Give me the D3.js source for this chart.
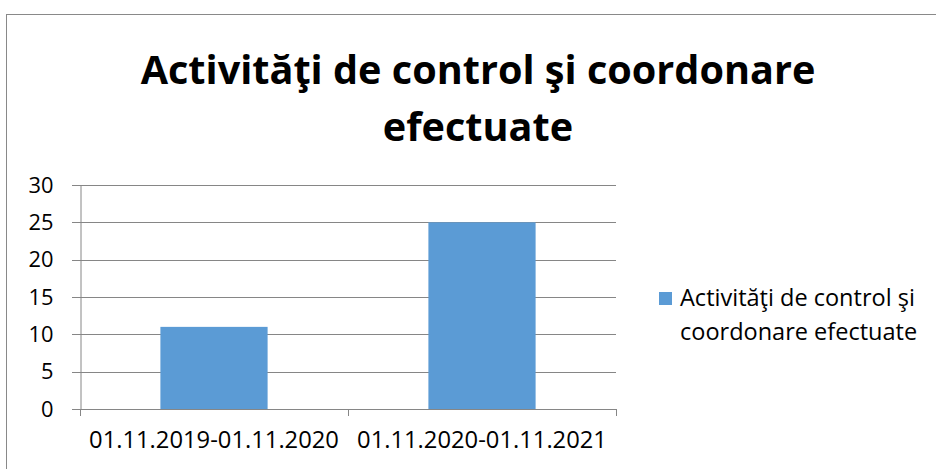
<!DOCTYPE html>
<html>
<head>
<meta charset="utf-8">
<script src="https://cdn.jsdelivr.net/npm/d3@7"></script>
<style>
  body { margin: 0; background: #fff; }
  text { font-family: "Open Sans", sans-serif; fill: #000; }
</style>
</head>
<body>
<svg id="chart" width="936" height="469"></svg>
<script>
const categories = ['01.11.2019-01.11.2020', '01.11.2020-01.11.2021'];
const values = [11, 25];
const yTicks = [0, 5, 10, 15, 20, 25, 30];
const titleLines = ['Activităţi de control şi coordonare', 'efectuate'];
const legendLines = ['Activităţi de control şi', 'coordonare efectuate'];

const svg = d3.select('#chart');

// shrink/grow a text node so it spans the given width (fonts differ from the original)
function fitWidth(sel, target) {
  const fs = +sel.attr('font-size');
  const w = sel.node().getComputedTextLength();
  sel.attr('font-size', (fs * target / w).toFixed(2));
}

// chart border
svg.append('rect')
  .attr('x', 6.5).attr('y', 14.5)
  .attr('width', 940).attr('height', 470)
  .attr('fill', 'none')
  .attr('stroke', '#898989')

const x = d3.scaleBand()
  .domain(categories)
  .range([80, 616])
  .paddingInner(0.6)
  .paddingOuter(0.3)

const y = d3.scaleLinear()
  .domain([0, 30])
  .range([409, 185])

// gridlines
svg.append('g')
  .selectAll('line')
  .data(yTicks)
  .join('line')
  .attr('x1', 72).attr('x2', 616)
  .attr('y1', d => Math.round(y(d)) + 0.5)
  .attr('y2', d => Math.round(y(d)) + 0.5)
  .attr('stroke', '#868686')

// y axis
const yAxis = d3.axisLeft(y).tickValues(yTicks).tickSize(0).tickPadding(27)
const yG = svg.append('g')
  .attr('transform', 'translate(80.5,0)')
  .call(yAxis)
  .call(g => g.select('.domain').attr('stroke', '#868686'))
  .call(g => g.selectAll('text').attr('font-size', 19).attr('fill', '#000')
    .attr('font-family', '"Open Sans", sans-serif'))
// size the tick labels so "30" is as wide as in the original
const topTick = yG.selectAll('.tick text').filter(d => d === 30)
fitWidth(topTick, 25)
yG.selectAll('.tick text').attr('font-size', topTick.attr('font-size'))

// bars
svg.append('g')
  .selectAll('rect')
  .data(values)
  .join('rect')
  .attr('x', (d, i) => x(categories[i]))
  .attr('width', x.bandwidth())
  .attr('y', d => y(d))
  .attr('height', d => y(0) - y(d))
  .attr('fill', '#5B9BD5')

// x axis
const xEdges = d3.scaleLinear().domain([0, categories.length]).range([80, 616])
svg.append('g')
  .selectAll('line')
  .data(d3.range(categories.length + 1))
  .join('line')
  .attr('x1', d => Math.round(xEdges(d)) + 0.5)
  .attr('x2', d => Math.round(xEdges(d)) + 0.5)
  .attr('y1', 409).attr('y2', 416)
  .attr('stroke', '#868686')

svg.append('g')
  .selectAll('text')
  .data(categories)
  .join('text')
  .attr('x', d => x(d) + x.bandwidth() / 2)
  .attr('y', 448)
  .attr('text-anchor', 'middle')
  .attr('font-size', 19)
  .text(d => d)
  .each(function() { fitWidth(d3.select(this), 250) })

// title
svg.append('g')
  .selectAll('text')
  .data(titleLines)
  .join('text')
  .attr('x', 478)
  .attr('y', (d, i) => 84 + i * 57)
  .attr('text-anchor', 'middle')
  .attr('font-size', 40)
  .attr('font-weight', 'bold')
  .text(d => d)
  .each(function(d, i) { if (i === 0) fitWidth(d3.select(this), 675) })
  .call(sel => {
    // second line uses the same size as the first
    const fs = d3.select(sel.nodes()[0]).attr('font-size');
    sel.attr('font-size', fs);
  })

// legend
svg.append('rect')
  .attr('x', 659).attr('y', 292)
  .attr('width', 13).attr('height', 13)
  .attr('fill', '#5B9BD5')

svg.append('g')
  .selectAll('text')
  .data(legendLines)
  .join('text')
  .attr('x', 680)
  .attr('y', (d, i) => 306 + i * 34)
  .attr('font-size', 19)
  .text(d => d)
  .each(function(d, i) { if (i === 0) fitWidth(d3.select(this), 235) })
  .call(sel => {
    const fs = d3.select(sel.nodes()[0]).attr('font-size');
    sel.attr('font-size', fs);
  })
</script>
</body>
</html>
